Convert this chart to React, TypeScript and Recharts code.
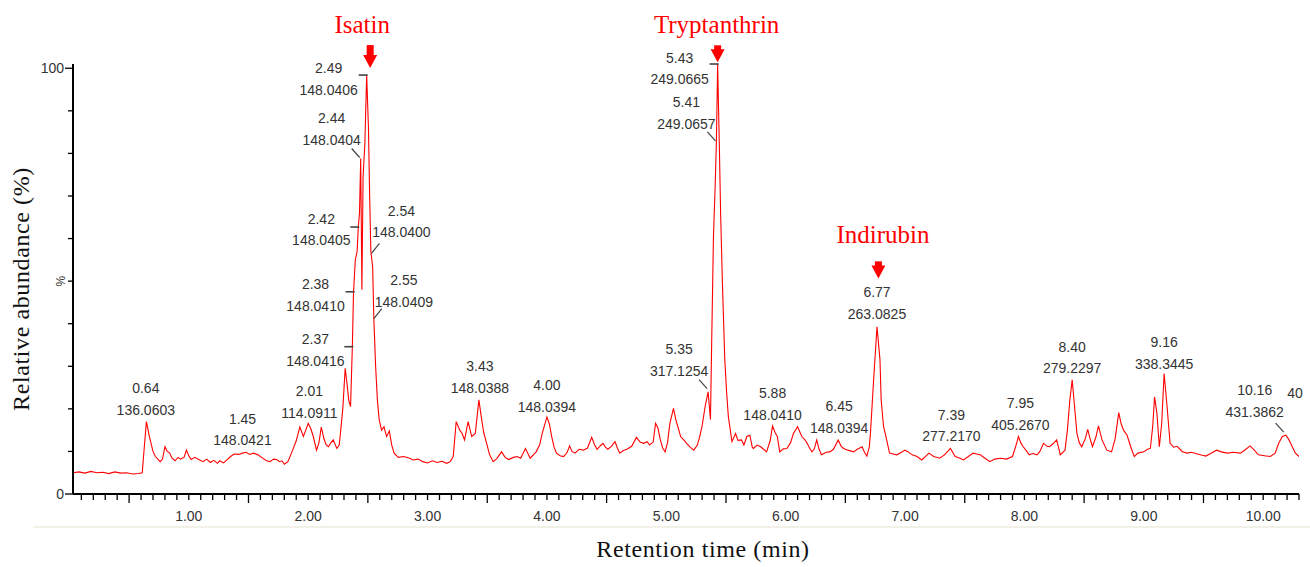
import React from 'react'
import { LineChart, Line, XAxis, YAxis, ReferenceDot, Label } from 'recharts'

// retention time (min) and relative abundance (%)
const times = [
  0.03, 0.08, 0.13, 0.18, 0.23, 0.28, 0.33, 0.38, 0.43, 0.48, 0.53, 0.58, 0.61, 0.63, 0.645, 0.67, 0.7, 0.72, 0.76, 0.78,
  0.8, 0.82, 0.84, 0.86, 0.885, 0.91, 0.93, 0.96, 0.98, 1.0, 1.02, 1.05, 1.09, 1.12, 1.15, 1.18, 1.21, 1.24, 1.26, 1.29,
  1.32, 1.35, 1.38, 1.42, 1.45, 1.48, 1.51, 1.54, 1.58, 1.61, 1.65, 1.68, 1.71, 1.735, 1.76, 1.78, 1.8, 1.83, 1.87, 1.9,
  1.93, 1.96, 1.98, 2.0, 2.02, 2.04, 2.07, 2.09, 2.11, 2.13, 2.15, 2.17, 2.19, 2.21, 2.24, 2.26, 2.27, 2.29, 2.31, 2.325,
  2.34, 2.355, 2.37, 2.38, 2.395, 2.41, 2.42, 2.43, 2.44, 2.45, 2.46, 2.475, 2.49, 2.505, 2.515, 2.525, 2.54, 2.55, 2.565, 2.58,
  2.595, 2.615, 2.635, 2.657, 2.68, 2.7, 2.72, 2.755, 2.8, 2.85, 2.88, 2.92, 2.96, 3.0, 3.04, 3.08, 3.12, 3.16, 3.19, 3.215,
  3.24, 3.27, 3.29, 3.31, 3.34, 3.37, 3.4, 3.43, 3.45, 3.47, 3.495, 3.52, 3.55, 3.58, 3.62, 3.65, 3.68, 3.72, 3.75, 3.78,
  3.82, 3.86, 3.89, 3.91, 3.94, 3.96, 4.0, 4.02, 4.04, 4.06, 4.08, 4.11, 4.14, 4.17, 4.19, 4.21, 4.235, 4.27, 4.305, 4.34,
  4.375, 4.4, 4.42, 4.45, 4.47, 4.49, 4.51, 4.54, 4.57, 4.59, 4.61, 4.64, 4.67, 4.71, 4.75, 4.78, 4.81, 4.84, 4.86, 4.89,
  4.91, 4.93, 4.95, 4.97, 4.99, 5.01, 5.03, 5.06, 5.08, 5.1, 5.12, 5.15, 5.17, 5.2, 5.23, 5.26, 5.28, 5.3, 5.325, 5.35,
  5.37, 5.38, 5.395, 5.41, 5.42, 5.43, 5.445, 5.455, 5.47, 5.49, 5.505, 5.52, 5.55, 5.58, 5.6, 5.63, 5.65, 5.675, 5.7, 5.72,
  5.73, 5.76, 5.79, 5.82, 5.84, 5.87, 5.89, 5.91, 5.93, 5.95, 5.98, 6.01, 6.04, 6.065, 6.1, 6.135, 6.16, 6.18, 6.2, 6.22,
  6.24, 6.26, 6.28, 6.3, 6.34, 6.37, 6.4, 6.44, 6.465, 6.485, 6.52, 6.57, 6.6, 6.64, 6.66, 6.68, 6.7, 6.71, 6.735, 6.765,
  6.79, 6.8, 6.82, 6.84, 6.87, 6.9, 6.93, 6.97, 7.0, 7.02, 7.06, 7.1, 7.14, 7.17, 7.2, 7.24, 7.29, 7.33, 7.38, 7.42,
  7.46, 7.49, 7.53, 7.57, 7.6, 7.63, 7.67, 7.71, 7.75, 7.8, 7.85, 7.9, 7.93, 7.95, 7.97, 7.99, 8.02, 8.04, 8.07, 8.105,
  8.13, 8.16, 8.19, 8.21, 8.24, 8.27, 8.29, 8.3, 8.34, 8.36, 8.38, 8.4, 8.42, 8.44, 8.46, 8.48, 8.51, 8.53, 8.55, 8.57,
  8.6, 8.62, 8.65, 8.69, 8.73, 8.76, 8.79, 8.81, 8.83, 8.86, 8.89, 8.92, 8.95, 9.0, 9.03, 9.055, 9.075, 9.09, 9.11, 9.13,
  9.15, 9.17, 9.195, 9.22, 9.25, 9.28, 9.32, 9.36, 9.4, 9.45, 9.49, 9.52, 9.56, 9.61, 9.65, 9.7, 9.75, 9.81, 9.85, 9.89,
  9.92, 9.96, 10.01, 10.06, 10.1, 10.13, 10.16, 10.19, 10.21, 10.23, 10.27, 10.3,
]
const abundance = [
  5.0, 5.2, 4.9, 5.3, 5.0, 5.1, 4.8, 5.2, 4.9, 5.0, 4.7, 4.8, 5.0, 12.0, 17.0, 13.5, 10.0, 8.8, 7.6, 8.2,
  11.1, 10.0, 9.6, 8.4, 7.8, 8.6, 8.2, 8.6, 10.3, 9.0, 8.1, 8.6, 8.0, 7.6, 8.2, 7.4, 7.9, 7.2, 7.8, 7.3,
  8.0, 8.8, 9.4, 9.3, 9.6, 9.8, 9.3, 9.6, 9.2, 8.6, 7.8, 7.6, 8.2, 8.1, 7.6, 7.8, 7.0, 7.6, 10.3, 12.5,
  15.7, 13.5, 15.0, 16.6, 15.5, 13.8, 10.3, 12.0, 15.7, 13.2, 11.6, 11.1, 12.0, 12.7, 10.7, 11.5, 14.2, 20.0, 29.5, 26.0,
  22.0, 20.5, 34.6, 47.5, 55.0, 57.0, 62.7, 66.0, 78.8, 48.0, 74.5, 82.4, 98.4, 86.0, 70.0, 57.0, 53.4, 41.2, 30.0, 22.0,
  17.4, 15.0, 15.8, 13.5, 14.8, 11.5, 9.6, 8.6, 8.8, 8.4, 8.0, 8.2, 7.6, 7.3, 7.8, 7.4, 7.7, 7.2, 7.6, 8.8,
  17.0, 15.0, 14.2, 12.7, 17.0, 13.5, 14.2, 22.1, 18.1, 14.5, 11.9, 9.2, 7.6, 8.3, 9.9, 8.6, 8.1, 8.6, 8.8, 8.4,
  10.7, 8.4, 9.3, 9.9, 11.6, 14.2, 18.1, 16.5, 13.5, 11.0, 9.6, 9.0, 8.8, 9.8, 11.3, 10.0, 9.6, 10.5, 10.3, 10.8,
  13.3, 11.5, 10.5, 11.4, 11.9, 11.0, 10.5, 11.2, 12.3, 10.8, 9.6, 10.2, 10.5, 11.2, 13.3, 12.2, 11.9, 12.3, 11.5, 12.2,
  16.6, 15.5, 12.7, 10.8, 9.9, 12.0, 16.6, 20.1, 17.4, 15.5, 13.5, 12.6, 11.9, 11.0, 10.3, 11.5, 13.5, 16.0, 20.5, 24.0,
  17.5, 35.4, 60.4, 72.9, 83.1, 101, 80.8, 65.9, 49.5, 31.5, 24.0, 18.1, 12.3, 14.2, 12.6, 12.7, 11.5, 13.5, 13.8, 11.0,
  10.7, 11.5, 11.1, 10.4, 9.9, 12.5, 16.0, 14.5, 13.5, 9.9, 10.6, 10.7, 12.0, 14.2, 15.8, 13.5, 12.8, 11.9, 10.8, 9.9,
  10.6, 12.7, 10.5, 9.2, 9.8, 9.9, 10.5, 12.7, 11.2, 10.7, 10.3, 9.9, 10.5, 11.1, 9.8, 8.9, 11.0, 14.2, 26.0, 39.3,
  31.5, 22.0, 15.8, 13.5, 9.6, 9.4, 9.2, 9.8, 10.3, 10.0, 9.2, 8.8, 8.0, 8.8, 9.6, 8.8, 8.4, 9.2, 10.7, 8.8,
  8.4, 8.0, 8.8, 9.6, 9.4, 9.2, 8.4, 7.6, 8.2, 8.4, 8.2, 8.8, 11.5, 13.5, 12.0, 11.1, 10.0, 9.2, 9.5, 9.2,
  10.0, 11.9, 11.2, 11.1, 11.8, 12.7, 10.5, 9.2, 10.3, 15.0, 22.0, 26.8, 20.5, 14.2, 12.0, 11.1, 13.0, 15.2, 13.0, 11.1,
  13.5, 16.0, 12.7, 10.3, 9.9, 13.0, 19.1, 16.5, 15.0, 13.8, 11.1, 8.8, 9.6, 9.9, 10.5, 10.7, 16.0, 22.8, 18.9, 11.1,
  16.6, 28.3, 20.5, 11.9, 11.0, 11.2, 10.0, 9.6, 9.8, 9.4, 9.1, 8.9, 9.5, 10.3, 9.9, 9.6, 9.8, 9.6, 10.4, 11.3,
  10.5, 9.2, 9.0, 8.8, 9.6, 11.9, 13.5, 13.8, 13.0, 11.9, 9.6, 8.8,
]

// peak annotations: retention time, m/z, and the trace point they hang on
const peakRt = ['0.64', '1.45', '2.01', '2.37', '2.38', '2.42', '2.44', '2.49', '2.54', '2.55', '3.43', '4.00',
  '5.35', '5.43', '5.41', '5.88', '6.45', '6.77', '7.39', '7.95', '8.40', '9.16', '10.16', '40']
const peakMz = ['136.0603', '148.0421', '114.0911', '148.0416', '148.0410', '148.0405', '148.0404', '148.0406',
  '148.0400', '148.0409', '148.0388', '148.0394', '317.1254', '249.0665', '249.0657', '148.0410', '148.0394',
  '263.0825', '277.2170', '405.2670', '279.2297', '338.3445', '431.3862', '']
const peakAtT = [0.64, 1.45, 2.01, 2.37, 2.38, 2.42, 2.44, 2.49, 2.53, 2.55, 3.43, 4.0,
  5.35, 5.43, 5.42, 5.89, 6.44, 6.765, 7.38, 7.95, 8.4, 9.17, 10.18, 10.28]
const peakAtV = [17.0, 9.6, 16.3, 34.6, 47.5, 62.7, 78.8, 98.4, 56.5, 41.2, 22.1, 18.1,
  24.5, 101, 82.7, 16.0, 12.7, 39.3, 10.7, 13.5, 26.8, 28.3, 14.3, 9.4]

const compounds = ['Isatin', 'Tryptanthrin', 'Indirubin']
const compoundT = [2.49, 5.43, 6.765]
const compoundV = [98.4, 101, 39.3]

const minorTicks = Array.from({ length: 103 }, (_, i) => Math.round((i + 1)) / 10)
const abundanceTicks = [0, 10, 20, 30, 40, 50, 60, 70, 80, 90, 100]

// label placement relative to the anchor: dx, dy of 2nd line, leader kind
const tagLayout: [number, number, string][] = [
  [0, -12, ''], [0, -13, ''], [0, -12, ''], [-37, 14, 'h'], [-38, 14, 'h'], [-37, 13, 'h'],
  [-29, -19, 'dl'], [-38, 14.5, 'h'], [30, -21, 'dr'], [30, -17, 'dr'], [1, -12, ''], [0, -10, ''],
  [-29, -19, 'dl'], [-38, 15, 'h'], [-30, -18, 'dl'], [0, -11, ''], [1, -12, ''], [0, -13, ''],
  [1, -12, ''], [2, -12, ''], [0, -11.5, ''], [0, -10, ''], [-30, -21.5, 'dl'], [-1.5, -39.5, ''],
]
// text dx, text baseline dy, arrow tip dx, tip dy, shaft length
const compoundLayout = [
  [-4.5, -42, 3.5, -7, 10],
  [-1, -30.7, 0, -1.7, 4],
  [6, -83.6, 1.4, -48.3, 4],
]

const data = times.map((t, i) => ({ t, v: abundance[i] }))

const SANS = '"Liberation Sans", Arial, sans-serif'
const SERIF = '"Liberation Serif", "Times New Roman", serif'
const INK = '#333'

function TimeTick({ x, y, payload }: any) {
  const v = payload.value
  const whole = Math.abs(v - Math.round(v)) < 1e-6
  const half = !whole && Math.abs(v * 2 - Math.round(v * 2)) < 1e-6
  return (
    <g>
      <line x1={x} x2={x} y1={y} y2={y + (half ? 9 : 6)} stroke="#000" strokeWidth={1.3} />
      {whole && (
        <text x={x} y={y + 27} textAnchor="middle" fontFamily={SANS} fontSize={14} fill={INK}>
          {v.toFixed(2)}
        </text>
      )}
    </g>
  )
}

function AbundanceTick({ x, y, payload }: any) {
  const v = payload.value
  const end = v === 0 || v === 100
  return (
    <g>
      <line x1={x - (end ? 8 : 5)} x2={x} y1={y} y2={y} stroke="#000" strokeWidth={1.3} />
      {end && (
        <text x={x - 9} y={y + 5} textAnchor="end" fontFamily={SANS} fontSize={14} fill={INK}>
          {v}
        </text>
      )}
      {v === 50 && (
        <text x={x - 12} y={y} textAnchor="middle" fontFamily={SANS} fontSize={12} fill={INK}
          transform={`rotate(-90 ${x - 12} ${y})`} dominantBaseline="central">
          %
        </text>
      )}
    </g>
  )
}

function PeakTag({ cx, cy, idx }: any) {
  const [dx, dy, leader] = tagLayout[idx]
  const tx = cx + dx
  const y2 = cy + dy
  return (
    <g>
      {leader === 'h' && <line x1={cx - 8} x2={cx + 1} y1={cy} y2={cy} stroke="#444" strokeWidth={1.6} />}
      {leader === 'dl' && <line x1={cx - 1} y1={cy - 1} x2={cx - 9} y2={cy - 10} stroke="#444" strokeWidth={1.2} />}
      {leader === 'dr' && <line x1={cx} y1={cy} x2={cx + 8} y2={cy - 10} stroke="#444" strokeWidth={1.2} />}
      <text x={tx} y={y2 - 21.5 + 5} textAnchor="middle" fontFamily={SANS} fontSize={14} fill={INK}>
        {peakRt[idx]}
      </text>
      <text x={tx} y={y2 + 5} textAnchor="middle" fontFamily={SANS} fontSize={14} fill={INK}>
        {peakMz[idx]}
      </text>
    </g>
  )
}

function CompoundTag({ cx, cy, idx }: any) {
  const [tdx, tdy, adx, ady, shaft] = compoundLayout[idx]
  const ax = cx + adx
  const ay = cy + ady
  return (
    <g>
      <text x={cx + tdx} y={cy + tdy} textAnchor="middle" fontFamily={SERIF} fontSize={25} fill="#ff0000">
        {compounds[idx]}
      </text>
      <rect x={ax - 3.5} y={ay - 13 - shaft} width={7} height={shaft + 1} fill="#ff0000" />
      <polygon points={`${ax - 7},${ay - 13} ${ax + 7},${ay - 13} ${ax},${ay}`} fill="#ff0000" />
    </g>
  )
}

export default function App() {
  return (
    <div style={{ position: 'absolute', left: 0, top: 0, width: 1310, height: 567, background: '#fff' }}>
      <div style={{ position: 'absolute', left: 33, top: 526, width: 1277, height: 2, background: '#f1f1e8' }} />
      <LineChart width={1310} height={567} data={data} margin={{ top: 64, right: 11, bottom: 0, left: 0 }}>
        <XAxis
          dataKey="t"
          type="number"
          domain={[0.03, 10.3]}
          allowDataOverflow
          ticks={minorTicks}
          interval={0}
          tick={<TimeTick />}
          tickLine={false}
          tickSize={0}
          tickMargin={0}
          height={73}
          axisLine={{ stroke: '#000', strokeWidth: 2 }}
        >
          <Label
            content={({ viewBox }: any) => (
              <text x={703} y={viewBox.y + 63} textAnchor="middle" fontFamily={SERIF} fontSize={24}
                letterSpacing={0.6} fill="#111">
                Retention time (min)
              </text>
            )}
          />
        </XAxis>
        <YAxis
          type="number"
          domain={[0, 101]}
          ticks={abundanceTicks}
          interval={0}
          tick={<AbundanceTick />}
          tickLine={false}
          tickSize={0}
          tickMargin={0}
          width={73}
          axisLine={{ stroke: '#000', strokeWidth: 2 }}
        >
          <Label
            content={() => (
              <text x={0} y={0} textAnchor="middle" fontFamily={SERIF} fontSize={24} letterSpacing={0.6}
                fill="#111" transform="translate(29 289) rotate(-90)">
                Relative abundance (%)
              </text>
            )}
          />
        </YAxis>
        <Line dataKey="v" type="linear" stroke="#ff0000" strokeWidth={1.1} dot={false} isAnimationActive={false} />
        {peakAtT.map((t, i) => (
          <ReferenceDot key={`pk-${i}`} x={t} y={peakAtV[i]} r={1} ifOverflow="visible"
            shape={(p: any) => <PeakTag cx={p.cx} cy={p.cy} idx={i} />} />
        ))}
        {compoundT.map((t, i) => (
          <ReferenceDot key={`cp-${i}`} x={t} y={compoundV[i]} r={1} ifOverflow="visible"
            shape={(p: any) => <CompoundTag cx={p.cx} cy={p.cy} idx={i} />} />
        ))}
      </LineChart>
    </div>
  )
}
